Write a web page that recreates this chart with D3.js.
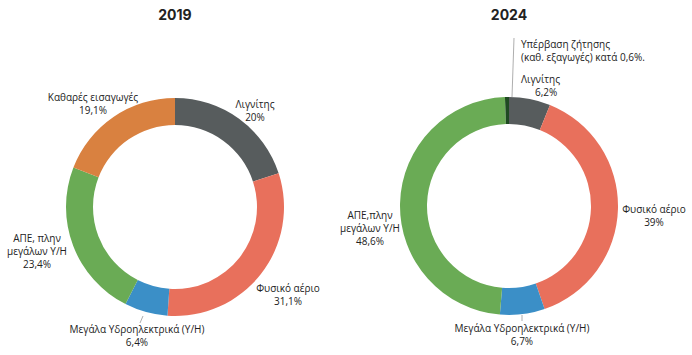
<!DOCTYPE html>
<html><head><meta charset="utf-8">
<script src="https://cdn.jsdelivr.net/npm/d3@7/dist/d3.min.js"></script>
<style>
body{margin:0;background:#fff;}
svg{display:block;}
text{font-family:"Open Sans","Noto Sans",sans-serif;fill:#222;}
</style></head>
<body><svg id="c" width="692" height="355"></svg>
<script>
// 2019
const cats2019 = ["Λιγνίτης","Φυσικό αέριο","Μεγάλα Υδροηλεκτρικά (Υ/Η)","ΑΠΕ, πλην μεγάλων Υ/Η","Καθαρές εισαγωγές"];
const vals2019 = [20, 31.1, 6.4, 23.4, 19.1];
const pct2019 = ["20%","31,1%","6,4%","23,4%","19,1%"];
// 2024
const cats2024 = ["Λιγνίτης","Φυσικό αέριο","Μεγάλα Υδροηλεκτρικά (Υ/Η)","ΑΠΕ,πλην μεγάλων Υ/Η","Υπέρβαση ζήτησης (καθ. εξαγωγές)"];
const vals2024 = [6.2, 39, 6.7, 48.6, 0.6];
const pct2024 = ["6,2%","39%","6,7%","48,6%","0,6%"];
const colors = ["#575c5d","#e8705c","#3b8fc7","#6aab55","#d98140","#1f4a22"];
const years = ["2019","2024"];

const svg = d3.select("#c");
const R = 109, r = 82;
const arc = d3.arc().innerRadius(r).outerRadius(R);
const pie = d3.pie().sort(null).value(d=>d.v);

function donut(cx, cy, cats, vals, colIdx, title){
  const g = svg.append("g").attr("transform",`translate(${cx},${cy})`);
  const data = cats.map((c,i)=>({c, v:vals[i], col:colors[colIdx[i]]}));
  g.selectAll("path").data(pie(data)).join("path")
    .attr("d",arc).attr("fill",d=>d.data.col);
  svg.append("text").attr("x",cx).attr("y",20).attr("text-anchor","middle")
    .style("font-weight","bold").style("font-size","14px").style("font-family","Inter, 'Open Sans', sans-serif").text(title);
  return g;
}
function label(x, y, lines, anchor){
  const t = svg.append("text").attr("text-anchor",anchor||"middle").style("font-size","10px");
  lines.forEach((l,i)=>{
    t.append("tspan").attr("x", Array.isArray(x)? x[i] : x).attr("y", y + i*12.8).text(l);
  });
}
function leader(x1,y1,x2,y2){
  svg.append("line").attr("x1",x1).attr("y1",y1).attr("x2",x2).attr("y2",y2)
    .attr("stroke","#999").attr("stroke-width",0.8);
}

donut(175, 207, cats2019, vals2019, [0,1,2,3,4], years[0]);
donut(509, 206, cats2024, vals2024, [0,1,2,3,5], years[1]);

// 2019 labels
label(93, 101, ["Καθαρές εισαγωγές", pct2019[4]]);
label(255, 108, [cats2019[0], pct2019[0]]);
label(288, 292, [cats2019[1], pct2019[1]]);
leader(143, 316, 140, 323);
label(137, 333, [cats2019[2], pct2019[2]]);
label(37, 242, ["ΑΠΕ, πλην", "μεγάλων Υ/Η", pct2019[3]]);

// 2024 labels
leader(512, 97, 514, 38);
label(521, 48, ["Υπέρβαση ζήτησης", "(καθ. εξαγωγές) κατά 0,6%."], "start");
label([521, 535], 83, [cats2024[0], pct2024[0]], "start");
label(654, 213, [cats2024[1], pct2024[1]]);
label(370, 219, ["ΑΠΕ,πλην", "μεγάλων Υ/Η", pct2024[3]]);
leader(522, 315, 522, 321);
label(522, 332, [cats2024[2], pct2024[2]]);
</script></body></html>
